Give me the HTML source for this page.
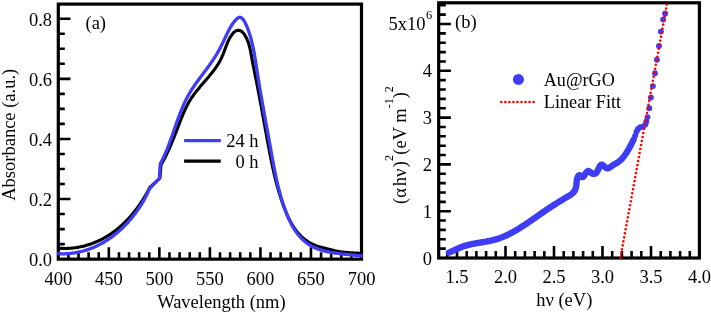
<!DOCTYPE html><html><head><meta charset="utf-8"><title>Absorbance and Tauc plot</title><style>
html,body{margin:0;padding:0;background:#fff;overflow:hidden;}svg{display:block;will-change:transform;}
text{font-family:"Liberation Serif",serif;fill:#000;}
</style></head><body>
<svg width="711" height="313" viewBox="0 0 711 313">
<rect width="711" height="313" fill="#fff"/>
<g id="pa">
<path d="M68.41 259.15 V252.15 M78.51 259.15 V252.15 M88.62 259.15 V252.15 M98.73 259.15 V252.15 M108.83 259.15 V247.15 M118.94 259.15 V252.15 M129.05 259.15 V252.15 M139.15 259.15 V252.15 M149.26 259.15 V252.15 M159.37 259.15 V247.15 M169.47 259.15 V252.15 M179.58 259.15 V252.15 M189.69 259.15 V252.15 M199.79 259.15 V252.15 M209.9 259.15 V247.15 M220.01 259.15 V252.15 M230.11 259.15 V252.15 M240.22 259.15 V252.15 M250.33 259.15 V252.15 M260.43 259.15 V247.15 M270.54 259.15 V252.15 M280.65 259.15 V252.15 M290.75 259.15 V252.15 M300.86 259.15 V252.15 M310.97 259.15 V247.15 M321.07 259.15 V252.15 M331.18 259.15 V252.15 M341.29 259.15 V252.15 M351.39 259.15 V252.15 M58.3 244.12 H64.8 M58.3 229.1 H64.8 M58.3 214.07 H64.8 M58.3 199.05 H70.5 M58.3 184.02 H64.8 M58.3 169 H64.8 M58.3 153.97 H64.8 M58.3 138.95 H70.5 M58.3 123.92 H64.8 M58.3 108.9 H64.8 M58.3 93.87 H64.8 M58.3 78.85 H70.5 M58.3 63.82 H64.8 M58.3 48.8 H64.8 M58.3 33.77 H64.8 M58.3 18.75 H70.5" stroke="#000" stroke-width="2.6" fill="none"/>
<rect x="58.3" y="4.1" width="303.2" height="255.05" fill="none" stroke="#000" stroke-width="3.2"/>
<path d="M57.3 248.1 L58.33 248.19 L59.37 248.27 L60.4 248.33 L61.43 248.38 L62.46 248.42 L63.49 248.44 L64.51 248.45 L65.53 248.45 L66.55 248.43 L67.57 248.4 L68.59 248.35 L69.6 248.29 L70.61 248.22 L71.62 248.14 L72.63 248.04 L73.63 247.93 L74.63 247.81 L75.63 247.67 L76.62 247.52 L77.62 247.36 L78.6 247.19 L79.59 247 L80.57 246.8 L81.55 246.59 L82.53 246.37 L83.5 246.14 L84.47 245.89 L85.43 245.63 L86.39 245.36 L87.35 245.08 L88.3 244.79 L89.25 244.49 L90.2 244.17 L91.14 243.84 L92.08 243.51 L93.01 243.16 L93.94 242.8 L94.86 242.43 L95.78 242.04 L96.7 241.65 L97.61 241.25 L98.51 240.83 L99.41 240.41 L100.31 239.98 L101.2 239.53 L102.09 239.08 L102.97 238.61 L103.84 238.13 L104.71 237.65 L105.58 237.15 L106.44 236.65 L107.29 236.13 L108.14 235.61 L108.98 235.08 L109.82 234.53 L110.65 233.98 L111.48 233.42 L112.3 232.85 L113.11 232.27 L113.92 231.68 L114.72 231.08 L115.51 230.47 L116.3 229.86 L117.09 229.24 L117.87 228.6 L118.64 227.96 L119.4 227.32 L120.16 226.66 L120.91 226 L121.66 225.33 L122.4 224.65 L123.14 223.96 L123.87 223.27 L124.59 222.57 L125.31 221.86 L126.02 221.15 L126.72 220.43 L127.42 219.7 L128.11 218.96 L128.8 218.22 L129.48 217.48 L130.15 216.72 L130.82 215.97 L131.48 215.2 L132.14 214.43 L132.79 213.65 L133.43 212.87 L134.07 212.09 L134.7 211.29 L135.32 210.5 L135.94 209.69 L136.55 208.89 L137.16 208.08 L137.76 207.26 L138.35 206.44 L138.94 205.61 L139.52 204.78 L140.09 203.95 L140.66 203.11 L141.22 202.27 L141.78 201.43 L142.33 200.58 L142.87 199.72 L143.41 198.87 L143.94 198.01 L144.46 197.15 L144.98 196.28 L145.49 195.42 L145.99 194.55 L146.49 193.67 L146.98 192.8 L147.47 191.92 L147.95 191.04 L148.42 190.16 L148.89 189.27 L149.35 188.39 L149.8 187.5 L159.9 178.2 L161 164.8 L161.49 163.97 L161.97 163.13 L162.45 162.29 L162.92 161.44 L163.39 160.59 L163.85 159.72 L164.31 158.86 L164.76 157.99 L165.21 157.11 L165.65 156.23 L166.09 155.34 L166.53 154.45 L166.96 153.55 L167.39 152.65 L167.81 151.75 L168.23 150.84 L168.65 149.93 L169.06 149.01 L169.47 148.09 L169.88 147.17 L170.29 146.24 L170.69 145.31 L171.08 144.38 L171.48 143.45 L171.87 142.51 L172.26 141.58 L172.65 140.64 L173.03 139.69 L173.42 138.75 L173.8 137.81 L174.18 136.86 L174.55 135.91 L174.93 134.97 L175.3 134.02 L175.67 133.07 L176.04 132.12 L176.41 131.17 L176.78 130.22 L177.15 129.27 L177.51 128.33 L177.88 127.38 L178.24 126.43 L178.6 125.49 L178.97 124.54 L179.33 123.6 L179.69 122.66 L180.05 121.72 L180.42 120.78 L180.78 119.84 L181.15 118.91 L181.52 117.98 L181.89 117.05 L182.27 116.12 L182.65 115.2 L183.03 114.28 L183.42 113.37 L183.81 112.45 L184.21 111.54 L184.61 110.64 L185.02 109.74 L185.44 108.84 L185.87 107.95 L186.3 107.06 L186.74 106.18 L187.19 105.3 L187.64 104.43 L188.11 103.57 L188.59 102.7 L189.07 101.85 L189.57 101 L190.08 100.16 L190.6 99.32 L191.13 98.49 L191.68 97.66 L192.23 96.85 L192.8 96.03 L193.37 95.23 L193.96 94.42 L194.55 93.63 L195.16 92.83 L195.77 92.04 L196.38 91.26 L197.01 90.48 L197.64 89.7 L198.27 88.92 L198.91 88.15 L199.56 87.38 L200.2 86.61 L200.86 85.84 L201.51 85.08 L202.17 84.31 L202.83 83.55 L203.49 82.79 L204.15 82.03 L204.81 81.26 L205.47 80.5 L206.13 79.74 L206.78 78.97 L207.44 78.21 L208.09 77.44 L208.74 76.67 L209.39 75.9 L210.03 75.13 L210.67 74.35 L211.3 73.57 L211.92 72.79 L212.54 72 L213.15 71.21 L213.76 70.42 L214.36 69.62 L214.94 68.81 L215.52 68 L216.09 67.19 L216.65 66.37 L217.2 65.54 L217.73 64.71 L218.26 63.87 L218.77 63.03 L219.27 62.17 L219.75 61.31 L220.22 60.44 L220.68 59.57 L221.12 58.68 L221.54 57.79 L221.95 56.89 L222.35 55.98 L222.73 55.06 L223.1 54.13 L223.47 53.2 L223.82 52.27 L224.18 51.33 L224.53 50.39 L224.88 49.44 L225.23 48.49 L225.58 47.55 L225.94 46.6 L226.3 45.65 L226.67 44.71 L227.06 43.76 L227.45 42.82 L227.86 41.89 L228.29 40.96 L228.73 40.03 L229.2 39.12 L229.69 38.21 L230.2 37.31 L230.74 36.43 L231.3 35.56 L231.9 34.7 L232.52 33.87 L233.18 33.08 L233.88 32.35 L234.61 31.7 L235.39 31.17 L236.2 30.77 L237.04 30.5 L237.9 30.37 L238.76 30.37 L239.63 30.51 L240.47 30.78 L241.29 31.19 L242.07 31.74 L242.8 32.42 L243.49 33.2 L244.13 34.06 L244.73 34.98 L245.29 35.92 L245.82 36.87 L246.31 37.82 L246.77 38.77 L247.19 39.72 L247.59 40.68 L247.96 41.63 L248.31 42.59 L248.63 43.54 L248.93 44.5 L249.21 45.46 L249.47 46.42 L249.71 47.38 L249.94 48.35 L250.16 49.31 L250.37 50.27 L250.56 51.24 L250.75 52.2 L250.93 53.17 L251.1 54.14 L251.28 55.11 L251.45 56.08 L251.63 57.05 L251.8 58.02 L251.98 58.99 L252.16 59.96 L252.34 60.94 L252.53 61.91 L252.72 62.89 L252.9 63.86 L253.09 64.84 L253.29 65.82 L253.48 66.79 L253.67 67.77 L253.87 68.75 L254.06 69.73 L254.26 70.71 L254.46 71.69 L254.66 72.67 L254.85 73.65 L255.05 74.63 L255.25 75.61 L255.45 76.6 L255.65 77.58 L255.85 78.56 L256.04 79.55 L256.24 80.53 L256.44 81.51 L256.63 82.5 L256.83 83.48 L257.02 84.47 L257.21 85.45 L257.41 86.44 L257.6 87.42 L257.79 88.41 L257.98 89.39 L258.17 90.38 L258.36 91.37 L258.55 92.35 L258.74 93.34 L258.93 94.32 L259.11 95.31 L259.3 96.3 L259.49 97.28 L259.67 98.27 L259.86 99.26 L260.04 100.25 L260.23 101.23 L260.41 102.22 L260.59 103.21 L260.78 104.19 L260.96 105.18 L261.14 106.17 L261.32 107.16 L261.51 108.14 L261.69 109.13 L261.87 110.12 L262.05 111.11 L262.23 112.1 L262.41 113.08 L262.59 114.07 L262.77 115.06 L262.95 116.05 L263.13 117.03 L263.31 118.02 L263.49 119.01 L263.67 119.99 L263.85 120.98 L264.03 121.97 L264.21 122.96 L264.39 123.94 L264.57 124.93 L264.75 125.92 L264.93 126.9 L265.1 127.89 L265.28 128.87 L265.46 129.86 L265.64 130.85 L265.82 131.83 L266 132.82 L266.18 133.8 L266.36 134.79 L266.54 135.77 L266.73 136.76 L266.91 137.74 L267.09 138.73 L267.27 139.71 L267.45 140.69 L267.63 141.68 L267.82 142.66 L268 143.64 L268.18 144.63 L268.37 145.61 L268.55 146.59 L268.73 147.57 L268.92 148.55 L269.11 149.53 L269.29 150.51 L269.48 151.49 L269.67 152.47 L269.86 153.45 L270.04 154.43 L270.24 155.41 L270.43 156.39 L270.62 157.37 L270.81 158.35 L271.01 159.32 L271.21 160.3 L271.41 161.28 L271.61 162.25 L271.81 163.23 L272.01 164.2 L272.22 165.18 L272.42 166.15 L272.63 167.13 L272.84 168.1 L273.06 169.07 L273.27 170.04 L273.49 171.01 L273.71 171.99 L273.93 172.96 L274.16 173.93 L274.38 174.9 L274.61 175.86 L274.85 176.83 L275.08 177.8 L275.32 178.77 L275.56 179.73 L275.81 180.7 L276.05 181.66 L276.3 182.63 L276.56 183.59 L276.82 184.56 L277.08 185.52 L277.34 186.48 L277.61 187.44 L277.88 188.4 L278.15 189.36 L278.43 190.32 L278.72 191.28 L279 192.24 L279.29 193.2 L279.59 194.15 L279.89 195.11 L280.19 196.06 L280.5 197.02 L280.81 197.97 L281.12 198.93 L281.44 199.88 L281.77 200.83 L282.1 201.78 L282.43 202.73 L282.77 203.68 L283.12 204.63 L283.47 205.57 L283.82 206.52 L284.18 207.47 L284.55 208.41 L284.92 209.35 L285.29 210.3 L285.67 211.24 L286.06 212.18 L286.45 213.11 L286.86 214.05 L287.26 214.97 L287.68 215.9 L288.1 216.82 L288.54 217.74 L288.98 218.65 L289.43 219.56 L289.89 220.46 L290.35 221.35 L290.83 222.24 L291.32 223.12 L291.82 223.99 L292.33 224.85 L292.85 225.71 L293.38 226.55 L293.92 227.39 L294.48 228.21 L295.05 229.03 L295.63 229.83 L296.22 230.63 L296.83 231.41 L297.45 232.18 L298.09 232.94 L298.74 233.68 L299.4 234.41 L300.08 235.13 L300.77 235.83 L301.48 236.52 L302.21 237.19 L302.95 237.85 L303.71 238.49 L304.48 239.11 L305.26 239.72 L306.06 240.31 L306.87 240.88 L307.7 241.44 L308.53 241.97 L309.38 242.49 L310.24 242.98 L311.11 243.46 L311.99 243.92 L312.88 244.35 L313.78 244.77 L314.69 245.16 L315.6 245.53 L316.53 245.88 L317.46 246.2 L318.4 246.5 L319.34 246.78 L320.29 247.04 L321.25 247.29 L322.21 247.53 L323.17 247.76 L324.14 247.99 L325.11 248.23 L326.09 248.47 L327.06 248.73 L328.04 248.99 L329.03 249.27 L330.01 249.54 L330.99 249.81 L331.98 250.08 L332.96 250.33 L333.95 250.58 L334.93 250.8 L335.92 251.01 L336.9 251.21 L337.88 251.39 L338.86 251.56 L339.84 251.71 L340.82 251.85 L341.81 251.98 L342.79 252.1 L343.77 252.21 L344.75 252.31 L345.73 252.4 L346.72 252.48 L347.7 252.56 L348.69 252.63 L349.68 252.7 L350.67 252.76 L351.66 252.82 L352.65 252.88 L353.64 252.93 L354.64 252.99 L355.64 253.04 L356.64 253.1 L357.64 253.16 L358.65 253.22 L359.66 253.28 L360.67 253.35 L361.68 253.42 L362.7 253.5" fill="none" stroke="#000" stroke-width="3.1" stroke-linejoin="round" stroke-linecap="butt"/>
<path d="M57.3 253.6 L58.34 253.67 L59.38 253.72 L60.41 253.76 L61.44 253.79 L62.47 253.8 L63.5 253.8 L64.52 253.78 L65.54 253.75 L66.56 253.71 L67.57 253.65 L68.58 253.58 L69.59 253.49 L70.59 253.4 L71.59 253.29 L72.59 253.16 L73.58 253.03 L74.57 252.88 L75.56 252.72 L76.54 252.54 L77.52 252.36 L78.5 252.16 L79.47 251.95 L80.44 251.72 L81.4 251.49 L82.36 251.24 L83.32 250.98 L84.27 250.71 L85.22 250.42 L86.17 250.13 L87.11 249.82 L88.04 249.51 L88.98 249.18 L89.9 248.84 L90.83 248.49 L91.75 248.13 L92.66 247.75 L93.57 247.37 L94.48 246.98 L95.38 246.57 L96.28 246.16 L97.17 245.73 L98.06 245.3 L98.95 244.85 L99.82 244.4 L100.7 243.93 L101.57 243.46 L102.43 242.98 L103.29 242.48 L104.15 241.98 L105 241.47 L105.84 240.94 L106.68 240.41 L107.52 239.87 L108.35 239.32 L109.17 238.77 L109.99 238.2 L110.81 237.62 L111.62 237.04 L112.42 236.45 L113.22 235.85 L114.01 235.24 L114.8 234.62 L115.58 234 L116.36 233.36 L117.13 232.72 L117.89 232.08 L118.65 231.42 L119.41 230.76 L120.16 230.09 L120.9 229.41 L121.63 228.73 L122.36 228.03 L123.09 227.33 L123.81 226.63 L124.52 225.92 L125.23 225.2 L125.93 224.47 L126.62 223.74 L127.31 223 L127.99 222.26 L128.66 221.51 L129.33 220.75 L129.99 219.99 L130.65 219.22 L131.3 218.45 L131.94 217.67 L132.58 216.88 L133.21 216.09 L133.83 215.3 L134.45 214.5 L135.06 213.69 L135.66 212.88 L136.26 212.06 L136.85 211.24 L137.43 210.42 L138 209.59 L138.57 208.76 L139.13 207.92 L139.69 207.08 L140.23 206.23 L140.77 205.38 L141.3 204.52 L141.83 203.67 L142.35 202.8 L142.86 201.94 L143.36 201.07 L143.86 200.2 L144.34 199.32 L144.83 198.44 L145.3 197.56 L145.76 196.68 L146.22 195.79 L146.67 194.9 L147.11 194.01 L147.55 193.11 L147.97 192.21 L148.39 191.31 L148.8 190.41 L149.2 189.51 L149.6 188.6 L159.4 178.4 L160.2 164 L160.68 163.12 L161.15 162.24 L161.61 161.35 L162.06 160.46 L162.51 159.56 L162.95 158.66 L163.38 157.76 L163.8 156.86 L164.22 155.95 L164.64 155.04 L165.04 154.12 L165.44 153.2 L165.84 152.28 L166.23 151.36 L166.61 150.44 L166.99 149.51 L167.37 148.58 L167.74 147.65 L168.1 146.71 L168.47 145.78 L168.83 144.84 L169.18 143.9 L169.53 142.96 L169.88 142.02 L170.23 141.07 L170.57 140.13 L170.91 139.18 L171.25 138.23 L171.58 137.29 L171.92 136.34 L172.25 135.39 L172.58 134.44 L172.91 133.49 L173.24 132.53 L173.57 131.58 L173.9 130.63 L174.22 129.68 L174.55 128.73 L174.88 127.78 L175.21 126.83 L175.54 125.87 L175.87 124.92 L176.2 123.97 L176.53 123.03 L176.86 122.08 L177.2 121.13 L177.54 120.19 L177.88 119.24 L178.22 118.3 L178.57 117.36 L178.91 116.42 L179.26 115.48 L179.62 114.54 L179.98 113.6 L180.34 112.67 L180.7 111.74 L181.07 110.81 L181.45 109.89 L181.83 108.96 L182.21 108.04 L182.6 107.12 L182.99 106.21 L183.39 105.29 L183.8 104.38 L184.21 103.48 L184.63 102.57 L185.05 101.67 L185.48 100.77 L185.92 99.88 L186.37 98.99 L186.82 98.11 L187.28 97.22 L187.75 96.35 L188.22 95.47 L188.71 94.6 L189.2 93.74 L189.7 92.88 L190.21 92.02 L190.73 91.17 L191.26 90.32 L191.79 89.48 L192.34 88.64 L192.89 87.8 L193.44 86.97 L194 86.14 L194.57 85.31 L195.15 84.49 L195.73 83.67 L196.31 82.85 L196.9 82.04 L197.49 81.22 L198.08 80.41 L198.68 79.6 L199.28 78.8 L199.88 77.99 L200.49 77.19 L201.09 76.38 L201.7 75.58 L202.31 74.78 L202.91 73.97 L203.52 73.17 L204.13 72.37 L204.73 71.57 L205.33 70.77 L205.93 69.96 L206.53 69.16 L207.13 68.35 L207.72 67.55 L208.31 66.74 L208.89 65.93 L209.47 65.12 L210.05 64.31 L210.62 63.5 L211.19 62.68 L211.75 61.86 L212.3 61.04 L212.86 60.22 L213.4 59.39 L213.94 58.56 L214.48 57.72 L215.01 56.88 L215.54 56.04 L216.06 55.2 L216.57 54.35 L217.08 53.49 L217.58 52.63 L218.08 51.77 L218.57 50.9 L219.06 50.03 L219.54 49.15 L220.01 48.26 L220.48 47.37 L220.94 46.48 L221.39 45.58 L221.84 44.67 L222.29 43.77 L222.73 42.86 L223.17 41.94 L223.61 41.03 L224.04 40.11 L224.48 39.2 L224.91 38.28 L225.34 37.37 L225.77 36.45 L226.21 35.54 L226.64 34.63 L227.08 33.73 L227.52 32.82 L227.96 31.93 L228.41 31.03 L228.86 30.14 L229.32 29.26 L229.79 28.39 L230.27 27.52 L230.76 26.66 L231.28 25.8 L231.81 24.96 L232.37 24.13 L232.94 23.3 L233.55 22.49 L234.19 21.69 L234.86 20.9 L235.56 20.12 L236.3 19.35 L237.07 18.62 L237.87 17.98 L238.69 17.5 L239.5 17.25 L240.31 17.3 L241.1 17.62 L241.86 18.16 L242.58 18.84 L243.24 19.63 L243.84 20.45 L244.39 21.32 L244.9 22.22 L245.37 23.14 L245.81 24.08 L246.22 25.02 L246.63 25.98 L247.02 26.93 L247.4 27.88 L247.77 28.84 L248.13 29.79 L248.48 30.75 L248.81 31.71 L249.14 32.67 L249.46 33.63 L249.77 34.59 L250.07 35.55 L250.36 36.52 L250.64 37.48 L250.91 38.45 L251.18 39.42 L251.43 40.38 L251.68 41.35 L251.92 42.32 L252.16 43.29 L252.39 44.27 L252.61 45.24 L252.83 46.21 L253.04 47.19 L253.24 48.16 L253.44 49.14 L253.63 50.11 L253.82 51.09 L254 52.07 L254.18 53.05 L254.36 54.03 L254.53 55.01 L254.7 55.99 L254.87 56.97 L255.03 57.95 L255.19 58.93 L255.35 59.92 L255.5 60.9 L255.66 61.88 L255.81 62.87 L255.96 63.85 L256.11 64.84 L256.26 65.82 L256.41 66.81 L256.55 67.79 L256.7 68.78 L256.85 69.77 L257 70.75 L257.15 71.74 L257.3 72.73 L257.46 73.71 L257.61 74.7 L257.76 75.69 L257.92 76.68 L258.08 77.66 L258.23 78.65 L258.39 79.64 L258.55 80.63 L258.71 81.62 L258.87 82.61 L259.03 83.6 L259.2 84.59 L259.36 85.58 L259.52 86.56 L259.69 87.55 L259.86 88.54 L260.02 89.53 L260.19 90.52 L260.36 91.51 L260.53 92.5 L260.7 93.49 L260.87 94.48 L261.04 95.47 L261.21 96.46 L261.38 97.45 L261.56 98.45 L261.73 99.44 L261.9 100.43 L262.08 101.42 L262.25 102.41 L262.43 103.4 L262.6 104.39 L262.78 105.38 L262.96 106.37 L263.13 107.36 L263.31 108.35 L263.49 109.34 L263.67 110.33 L263.84 111.32 L264.02 112.31 L264.2 113.3 L264.38 114.29 L264.56 115.28 L264.74 116.27 L264.92 117.26 L265.1 118.25 L265.28 119.24 L265.46 120.23 L265.64 121.22 L265.82 122.21 L266 123.2 L266.18 124.19 L266.36 125.18 L266.54 126.17 L266.72 127.16 L266.9 128.15 L267.08 129.14 L267.26 130.13 L267.44 131.12 L267.62 132.1 L267.8 133.09 L267.98 134.08 L268.16 135.07 L268.34 136.06 L268.52 137.04 L268.7 138.03 L268.88 139.02 L269.06 140.01 L269.24 140.99 L269.41 141.98 L269.59 142.97 L269.77 143.95 L269.95 144.94 L270.12 145.92 L270.3 146.91 L270.47 147.89 L270.65 148.88 L270.82 149.86 L271 150.85 L271.17 151.83 L271.35 152.81 L271.53 153.8 L271.7 154.78 L271.88 155.76 L272.05 156.74 L272.23 157.73 L272.41 158.71 L272.59 159.69 L272.77 160.67 L272.95 161.65 L273.13 162.63 L273.31 163.61 L273.49 164.59 L273.68 165.57 L273.86 166.55 L274.05 167.53 L274.24 168.51 L274.43 169.48 L274.62 170.46 L274.82 171.44 L275.02 172.41 L275.21 173.39 L275.41 174.37 L275.62 175.34 L275.82 176.32 L276.03 177.29 L276.24 178.26 L276.45 179.24 L276.67 180.21 L276.89 181.18 L277.11 182.16 L277.34 183.13 L277.56 184.1 L277.79 185.07 L278.03 186.04 L278.27 187.01 L278.51 187.98 L278.75 188.95 L279 189.91 L279.25 190.88 L279.51 191.85 L279.77 192.81 L280.03 193.78 L280.3 194.74 L280.57 195.71 L280.85 196.67 L281.13 197.64 L281.41 198.6 L281.7 199.56 L282 200.52 L282.3 201.49 L282.6 202.45 L282.91 203.41 L283.23 204.37 L283.55 205.32 L283.87 206.28 L284.2 207.24 L284.54 208.2 L284.88 209.15 L285.23 210.11 L285.58 211.06 L285.94 212.01 L286.31 212.96 L286.68 213.91 L287.06 214.85 L287.45 215.79 L287.84 216.72 L288.24 217.65 L288.65 218.58 L289.07 219.5 L289.5 220.42 L289.94 221.33 L290.38 222.23 L290.83 223.13 L291.3 224.02 L291.77 224.9 L292.25 225.78 L292.74 226.64 L293.25 227.5 L293.76 228.35 L294.28 229.19 L294.82 230.03 L295.36 230.85 L295.92 231.66 L296.49 232.46 L297.07 233.25 L297.66 234.02 L298.27 234.79 L298.88 235.54 L299.51 236.29 L300.16 237.01 L300.81 237.73 L301.48 238.43 L302.17 239.12 L302.86 239.79 L303.57 240.44 L304.3 241.09 L305.04 241.71 L305.8 242.32 L306.57 242.92 L307.35 243.49 L308.15 244.05 L308.97 244.6 L309.8 245.12 L310.65 245.63 L311.52 246.12 L312.4 246.58 L313.3 247.03 L314.21 247.46 L315.14 247.88 L316.09 248.27 L317.04 248.65 L318.01 249.01 L318.99 249.35 L319.97 249.68 L320.97 249.99 L321.97 250.29 L322.98 250.57 L323.99 250.84 L325.01 251.1 L326.03 251.34 L327.05 251.57 L328.08 251.79 L329.1 252 L330.12 252.2 L331.14 252.39 L332.16 252.57 L333.17 252.74 L334.18 252.9 L335.18 253.05 L336.17 253.19 L337.15 253.33 L338.13 253.46 L339.09 253.59 L340.05 253.71 L341.01 253.82 L341.96 253.93 L342.91 254.04 L343.86 254.14 L344.8 254.24 L345.75 254.33 L346.69 254.43 L347.64 254.52 L348.59 254.62 L349.55 254.71 L350.5 254.8 L351.47 254.89 L352.44 254.99 L353.41 255.08 L354.4 255.18 L355.39 255.28 L356.4 255.38 L357.41 255.49 L358.44 255.6 L359.49 255.72 L360.54 255.84 L361.61 255.97 L362.7 256.1" fill="none" stroke="#3e3cf6" stroke-width="3.3" stroke-linejoin="round" stroke-linecap="butt"/>
<text x="52" y="265.95" font-size="18.5" text-anchor="end">0.0</text>
<text x="52" y="205.85" font-size="18.5" text-anchor="end">0.2</text>
<text x="52" y="145.75" font-size="18.5" text-anchor="end">0.4</text>
<text x="52" y="85.65" font-size="18.5" text-anchor="end">0.6</text>
<text x="52" y="25.55" font-size="18.5" text-anchor="end">0.8</text>
<text x="58.3" y="284.9" font-size="18.5" text-anchor="middle">400</text>
<text x="108.83" y="284.9" font-size="18.5" text-anchor="middle">450</text>
<text x="159.37" y="284.9" font-size="18.5" text-anchor="middle">500</text>
<text x="209.9" y="284.9" font-size="18.5" text-anchor="middle">550</text>
<text x="260.43" y="284.9" font-size="18.5" text-anchor="middle">600</text>
<text x="310.97" y="284.9" font-size="18.5" text-anchor="middle">650</text>
<text x="361.5" y="284.9" font-size="18.5" text-anchor="middle">700</text>
<text x="221.4" y="308" font-size="18.5" text-anchor="middle">Wavelength (nm)</text>
<text transform="translate(15 134.8) rotate(-90)" font-size="18.5" text-anchor="middle">Absorbance (a.u.)</text>
<text x="85.5" y="28.5" font-size="18.5">(a)</text>
<path d="M184.1 140.7 H220.8" stroke="#3e3cf6" stroke-width="3.2"/>
<path d="M184.1 161.2 H220.8" stroke="#000" stroke-width="3.2"/>
<text x="258.5" y="146.7" font-size="18.5" text-anchor="end">24 h</text>
<text x="258.5" y="167.7" font-size="18.5" text-anchor="end">0 h</text>
</g>
<g id="pb">
<path d="M447.3 258 V251.1 M457 258 V246 M466.7 258 V251.1 M476.4 258 V251.1 M486.1 258 V251.1 M495.8 258 V251.1 M505.5 258 V246 M515.2 258 V251.1 M524.9 258 V251.1 M534.6 258 V251.1 M544.3 258 V251.1 M554 258 V246 M563.7 258 V251.1 M573.4 258 V251.1 M583.1 258 V251.1 M592.8 258 V251.1 M602.5 258 V246 M612.2 258 V251.1 M621.9 258 V251.1 M631.6 258 V251.1 M641.3 258 V251.1 M651 258 V246 M660.7 258 V251.1 M670.4 258 V251.1 M680.1 258 V251.1 M689.8 258 V251.1 M438.7 248.64 H445.8 M438.7 239.28 H445.8 M438.7 229.92 H445.8 M438.7 220.56 H445.8 M438.7 211.2 H450.9 M438.7 201.84 H445.8 M438.7 192.48 H445.8 M438.7 183.12 H445.8 M438.7 173.76 H445.8 M438.7 164.4 H450.9 M438.7 155.04 H445.8 M438.7 145.68 H445.8 M438.7 136.32 H445.8 M438.7 126.96 H445.8 M438.7 117.6 H450.9 M438.7 108.24 H445.8 M438.7 98.88 H445.8 M438.7 89.52 H445.8 M438.7 80.16 H445.8 M438.7 70.8 H450.9 M438.7 61.44 H445.8 M438.7 52.08 H445.8 M438.7 42.72 H445.8 M438.7 33.36 H445.8 M438.7 24 H450.9 M438.7 14.64 H445.8 M438.7 5.28 H445.8" stroke="#000" stroke-width="2.6" fill="none"/>
<rect x="438.7" y="2.8" width="260.7" height="255.2" fill="none" stroke="#000" stroke-width="3.2"/>
<path d="M448.9 252.6 L449.8 252.22 L450.7 251.82 L451.61 251.41 L452.52 251 L453.44 250.58 L454.36 250.15 L455.28 249.72 L456.21 249.3 L457.15 248.88 L458.08 248.46 L459.02 248.05 L459.96 247.66 L460.91 247.27 L461.86 246.9 L462.81 246.56 L463.76 246.23 L464.72 245.91 L465.68 245.62 L466.64 245.34 L467.6 245.08 L468.57 244.83 L469.54 244.6 L470.5 244.38 L471.48 244.17 L472.45 243.97 L473.42 243.77 L474.39 243.59 L475.37 243.41 L476.34 243.24 L477.32 243.07 L478.3 242.91 L479.27 242.75 L480.25 242.59 L481.23 242.43 L482.21 242.27 L483.18 242.11 L484.16 241.95 L485.14 241.78 L486.11 241.61 L487.09 241.44 L488.06 241.25 L489.03 241.06 L490.01 240.86 L490.98 240.66 L491.94 240.44 L492.91 240.21 L493.88 239.96 L494.84 239.71 L495.8 239.44 L496.76 239.15 L497.72 238.85 L498.67 238.54 L499.62 238.2 L500.57 237.85 L501.51 237.49 L502.46 237.11 L503.4 236.73 L504.33 236.32 L505.26 235.91 L506.19 235.48 L507.12 235.05 L508.04 234.6 L508.95 234.14 L509.86 233.68 L510.77 233.21 L511.67 232.72 L512.57 232.24 L513.47 231.74 L514.35 231.24 L515.24 230.74 L516.12 230.23 L516.99 229.71 L517.86 229.19 L518.72 228.67 L519.58 228.14 L520.43 227.61 L521.28 227.07 L522.13 226.54 L522.97 226 L523.81 225.45 L524.65 224.9 L525.48 224.35 L526.31 223.8 L527.14 223.25 L527.96 222.69 L528.79 222.13 L529.61 221.57 L530.43 221.01 L531.24 220.44 L532.06 219.88 L532.88 219.31 L533.69 218.74 L534.5 218.17 L535.32 217.6 L536.13 217.04 L536.94 216.47 L537.75 215.9 L538.56 215.33 L539.38 214.76 L540.19 214.19 L541 213.62 L541.82 213.05 L542.64 212.49 L543.45 211.92 L544.27 211.36 L545.1 210.79 L545.92 210.23 L546.75 209.67 L547.57 209.12 L548.41 208.56 L549.24 208.01 L550.08 207.46 L550.92 206.91 L551.76 206.37 L552.6 205.82 L553.45 205.28 L554.3 204.74 L555.16 204.2 L556.01 203.66 L556.87 203.13 L557.73 202.59 L558.6 202.06 L559.46 201.53 L560.33 201 L561.2 200.47 L562.08 199.94 L562.95 199.41 L563.83 198.88 L564.71 198.35 L565.6 197.82 L566.48 197.3 L567.37 196.77 L568.25 196.24 L569.13 195.7 L569.99 195.15 L570.82 194.58 L571.62 193.99 L572.38 193.37 L573.09 192.71 L573.74 192.01 L574.32 191.26 L574.83 190.46 L575.26 189.6 L575.6 188.69 L575.87 187.72 L576.07 186.71 L576.23 185.67 L576.36 184.61 L576.47 183.55 L576.57 182.48 L576.69 181.42 L576.82 180.38 L576.99 179.38 L577.22 178.42 L577.51 177.51 L577.87 176.68 L578.3 175.98 L578.8 175.48 L579.35 175.24 L579.94 175.33 L580.57 175.82 L581.23 176.56 L581.91 177.11 L582.61 177.12 L583.32 176.62 L584.04 175.77 L584.79 174.7 L585.54 173.55 L586.31 172.47 L587.09 171.59 L587.89 171.06 L588.7 171.01 L589.53 171.46 L590.37 172.17 L591.22 172.9 L592.09 173.45 L592.95 173.78 L593.79 173.9 L594.6 173.81 L595.36 173.52 L596.05 173.04 L596.66 172.37 L597.2 171.55 L597.7 170.6 L598.2 169.54 L598.7 168.43 L599.25 167.28 L599.84 166.21 L600.48 165.33 L601.14 164.76 L601.85 164.61 L602.58 164.9 L603.35 165.51 L604.13 166.25 L604.94 166.99 L605.77 167.63 L606.62 168.08 L607.48 168.27 L608.35 168.17 L609.23 167.83 L610.11 167.32 L610.99 166.7 L611.88 166.02 L612.75 165.34 L613.62 164.73 L614.48 164.22 L615.33 163.76 L616.16 163.33 L616.97 162.88 L617.76 162.38 L618.53 161.84 L619.28 161.26 L620.01 160.64 L620.72 159.99 L621.42 159.3 L622.1 158.59 L622.76 157.84 L623.4 157.07 L624.03 156.28 L624.64 155.46 L625.24 154.63 L625.82 153.77 L626.39 152.9 L626.94 152.02 L627.49 151.13 L628.02 150.23 L628.53 149.32 L629.04 148.42 L629.54 147.5 L630.02 146.59 L630.5 145.69 L630.97 144.78 L631.42 143.89 L631.87 143 L632.32 142.13 L632.75 141.27 L633.18 140.42 L633.6 139.6" fill="none" stroke="#3e3cf6" stroke-width="6.4" stroke-linejoin="round" stroke-linecap="round"/>
<circle cx="635.2" cy="135.6" r="2.95" fill="#3e3cf6"/>
<circle cx="636.5" cy="131.8" r="2.95" fill="#3e3cf6"/>
<circle cx="638" cy="129" r="2.95" fill="#3e3cf6"/>
<circle cx="640.3" cy="127.3" r="2.95" fill="#3e3cf6"/>
<circle cx="642.9" cy="126.6" r="2.95" fill="#3e3cf6"/>
<circle cx="645.4" cy="124.6" r="2.95" fill="#3e3cf6"/>
<circle cx="646.3" cy="121.5" r="2.95" fill="#3e3cf6"/>
<circle cx="647.5" cy="117.1" r="2.95" fill="#3e3cf6"/>
<circle cx="649.3" cy="108.2" r="2.95" fill="#3e3cf6"/>
<circle cx="650.9" cy="97.5" r="2.95" fill="#3e3cf6"/>
<circle cx="652.9" cy="86.1" r="2.95" fill="#3e3cf6"/>
<circle cx="655" cy="73.3" r="2.95" fill="#3e3cf6"/>
<circle cx="656.9" cy="59.8" r="2.95" fill="#3e3cf6"/>
<circle cx="659" cy="46" r="2.95" fill="#3e3cf6"/>
<circle cx="660.9" cy="31.6" r="2.95" fill="#3e3cf6"/>
<circle cx="663.2" cy="19.5" r="2.95" fill="#3e3cf6"/>
<circle cx="665.1" cy="13.4" r="2.95" fill="#3e3cf6"/>
<path d="M620.5 257.4 L667.2 2.9" stroke="#ff0000" stroke-width="2.6" stroke-dasharray="0.01 4.07" stroke-linecap="round" fill="none"/>
<text x="432" y="264.6" font-size="18.5" text-anchor="end">0</text>
<text x="432" y="217.8" font-size="18.5" text-anchor="end">1</text>
<text x="432" y="171" font-size="18.5" text-anchor="end">2</text>
<text x="432" y="124.2" font-size="18.5" text-anchor="end">3</text>
<text x="432" y="77.4" font-size="18.5" text-anchor="end">4</text>
<text x="425.5" y="30.2" font-size="18.5" text-anchor="end">5x10</text>
<text x="426" y="19.2" font-size="12.5">6</text>
<text x="457" y="283" font-size="18.5" text-anchor="middle">1.5</text>
<text x="505.5" y="283" font-size="18.5" text-anchor="middle">2.0</text>
<text x="554" y="283" font-size="18.5" text-anchor="middle">2.5</text>
<text x="602.5" y="283" font-size="18.5" text-anchor="middle">3.0</text>
<text x="651" y="283" font-size="18.5" text-anchor="middle">3.5</text>
<text x="699.5" y="283" font-size="18.5" text-anchor="middle">4.0</text>
<text x="564.3" y="305.6" font-size="18.5" text-anchor="middle">h&#957; (eV)</text>
<text x="455" y="27.5" font-size="18.5">(b)</text>
<text transform="translate(406.3 203.9) rotate(-90)" font-size="18.5">(&#945;<tspan dx="1.9">h</tspan>&#957;<tspan dx="1.3">)</tspan><tspan font-size="12" dy="-13.6">2</tspan><tspan dy="13.6" dx="0.3">(eV m</tspan><tspan font-size="12" dy="-13.6">-1</tspan><tspan dy="13.6">)</tspan><tspan font-size="12" dy="-13.6">2</tspan></text>
<circle cx="518.4" cy="79.4" r="5.5" fill="#3e3cf6"/>
<path d="M501.3 102 H534" stroke="#ff0000" stroke-width="2.6" stroke-dasharray="0.01 4.03" stroke-linecap="round"/>
<text x="543.8" y="85.6" font-size="18.1">Au@rGO</text>
<text x="543.8" y="107.8" font-size="18.2">Linear Fitt</text>
</g>
</svg></body></html>
